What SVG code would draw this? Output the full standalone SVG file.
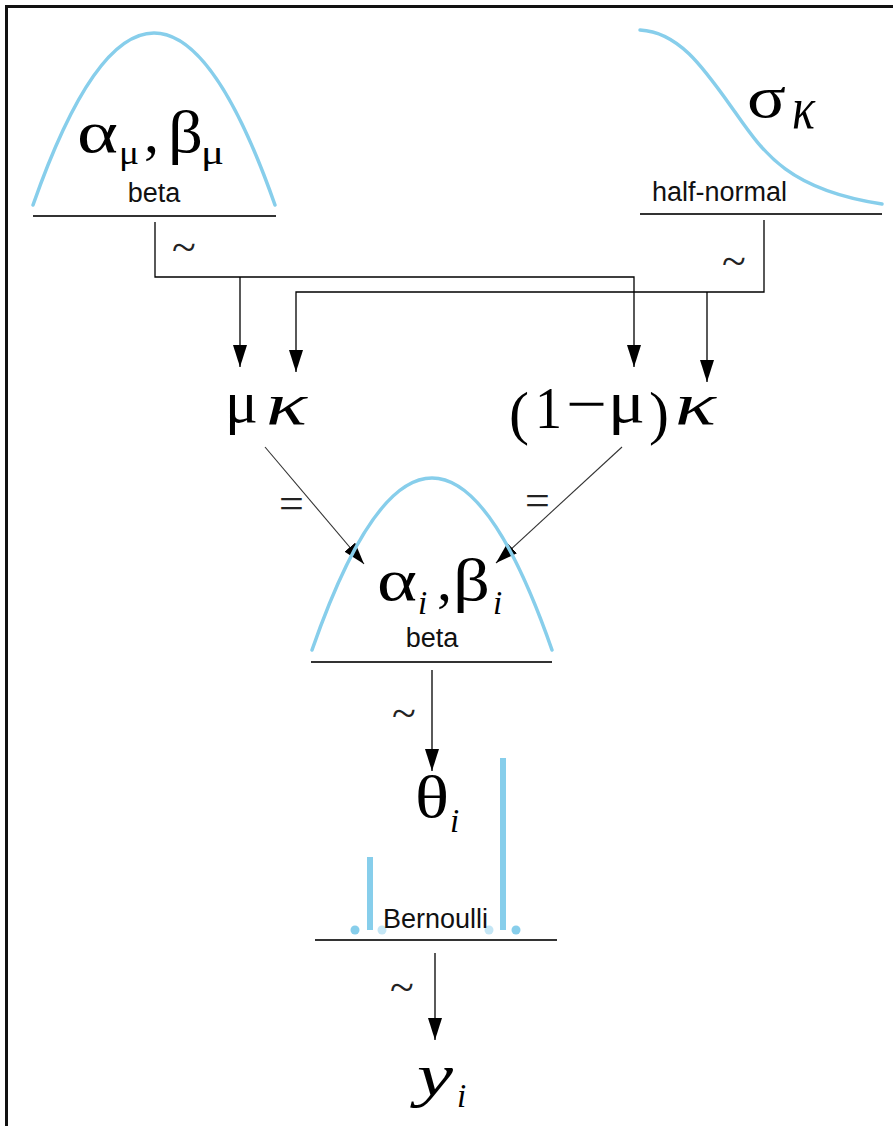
<svg xmlns="http://www.w3.org/2000/svg" width="893" height="1126" viewBox="0 0 893 1126">
<defs>
<style>
.curve{fill:none;stroke:#87ceeb;stroke-width:3.5;stroke-linecap:round}
.base{stroke:#333;stroke-width:2}
.conn{fill:none;stroke:#000;stroke-width:1.3}
.diag{fill:none;stroke:#333;stroke-width:1.1}
.m{font-family:'Liberation Serif','DejaVu Serif',serif;fill:#000;font-size:60px}
.sub{font-size:33px}
.it{font-style:italic}
.lab{font-family:'Liberation Sans',Arial,sans-serif;font-size:27px;fill:#111}
.op{font-family:'Liberation Serif','DejaVu Serif',serif;font-size:44px;fill:#222}
.bar{stroke:#87ceeb;stroke-width:6}
</style>
<marker id="ah" viewBox="0 0 22 14" refX="22" refY="7" markerWidth="22" markerHeight="14" markerUnits="userSpaceOnUse" orient="auto">
<path d="M0,0 L22,7 L0,14 Z" fill="#000"/>
</marker>
</defs>
<rect width="893" height="1126" fill="#fff"/>
<g id="frame">
<line x1="5" y1="6.5" x2="893" y2="6.5" stroke="#111" stroke-width="3"/>
<line x1="6.5" y1="5" x2="6.5" y2="1126" stroke="#111" stroke-width="3"/>
</g>
<g id="beta-top">
<path class="curve" d="M33,205 Q154,-139 275,205"/>
<line class="base" x1="33" y1="216" x2="276" y2="216"/>
<text class="m" x="77" y="152" textLength="41" lengthAdjust="spacingAndGlyphs">α</text>
<text class="m sub" x="119" y="164" textLength="20" lengthAdjust="spacingAndGlyphs">μ</text>
<text class="m" x="144" y="152">,</text>
<text class="m" font-size="56" x="168" y="152" textLength="35" lengthAdjust="spacingAndGlyphs">β</text>
<text class="m sub" x="201" y="164" textLength="23" lengthAdjust="spacingAndGlyphs">μ</text>
<text class="lab" x="154" y="202" text-anchor="middle">beta</text>
</g>
<g id="halfnormal-top">
<path class="curve" d="M640,30 C680,32 705,70 735,112 C765,155 790,190 882,204"/>
<line class="base" x1="640" y1="214" x2="882" y2="214"/>
<text class="m" x="747" y="117" textLength="39" lengthAdjust="spacingAndGlyphs">σ</text>
<text class="m it" font-size="46" x="792" y="128" textLength="23" lengthAdjust="spacingAndGlyphs">κ</text>
<text class="lab" x="652" y="201" font-size="28">half-normal</text>
</g>
<g id="connectors">
<path class="conn" d="M155,222 V277 H634 V367" marker-end="url(#ah)"/>
<path class="conn" d="M240,277 V367" marker-end="url(#ah)"/>
<path class="conn" d="M764,220 V292 H296 V372" marker-end="url(#ah)"/>
<path class="conn" d="M707,292 V382" marker-end="url(#ah)"/>
<path class="diag" d="M265,447 L364,564" marker-end="url(#ah)"/>
<path class="diag" d="M622,447 L496,563" marker-end="url(#ah)"/>
<path class="conn" d="M432,670 V771" marker-end="url(#ah)"/>
<path class="conn" d="M435,953 V1040" marker-end="url(#ah)"/>
<text class="op" x="172" y="262">~</text>
<text class="op" x="722" y="276">~</text>
<text class="op" x="279" y="518">=</text>
<text class="op" x="525" y="515">=</text>
<text class="op" x="392" y="728">~</text>
<text class="op" x="390" y="1002">~</text>
</g>
<g id="mu-kappa">
<text class="m" font-size="62" x="225" y="422" textLength="33" lengthAdjust="spacingAndGlyphs">μ</text>
<text class="m it" font-size="62" x="266" y="424" textLength="41" lengthAdjust="spacingAndGlyphs">κ</text>
</g>
<g id="one-minus-mu-kappa">
<text class="m" font-size="72" x="509" y="433">(</text>
<text class="m" font-size="64" x="535" y="428" textLength="27" lengthAdjust="spacingAndGlyphs">1</text>
<text class="m" font-size="62" x="566" y="424" textLength="41" lengthAdjust="spacingAndGlyphs">−</text>
<text class="m" font-size="62" x="608" y="422" textLength="37" lengthAdjust="spacingAndGlyphs">μ</text>
<text class="m" font-size="72" x="649" y="433">)</text>
<text class="m it" font-size="62" x="675" y="424" textLength="41" lengthAdjust="spacingAndGlyphs">κ</text>
</g>
<g id="beta-mid">
<path class="curve" d="M312,650 Q432,306 552,650"/>
<line class="base" x1="311" y1="662" x2="552" y2="662"/>
<text class="m" x="377" y="600" textLength="40" lengthAdjust="spacingAndGlyphs">α</text>
<text class="m sub it" x="418" y="614">i</text>
<text class="m" x="437" y="600">,</text>
<text class="m" font-size="56" x="453" y="600" textLength="37" lengthAdjust="spacingAndGlyphs">β</text>
<text class="m sub it" x="493" y="614">i</text>
<text class="lab" x="432" y="647" text-anchor="middle">beta</text>
</g>
<g id="theta">
<text class="m" x="415" y="817" textLength="34" lengthAdjust="spacingAndGlyphs">θ</text>
<text class="m sub it" x="450" y="832">i</text>
</g>
<g id="bernoulli">
<line class="bar" x1="370" y1="857" x2="370" y2="930"/>
<line class="bar" x1="503" y1="758" x2="503" y2="930"/>
<circle cx="355" cy="930" r="4.5" fill="#87ceeb"/>
<circle cx="382" cy="930" r="4.5" fill="#c4e6f5"/>
<circle cx="489" cy="930" r="4.5" fill="#c4e6f5"/>
<circle cx="516" cy="930" r="4.5" fill="#87ceeb"/>
<line class="base" x1="315" y1="940" x2="557" y2="940"/>
<text class="lab" x="383" y="928">Bernoulli</text>
</g>
<g id="y">
<text class="m it" font-size="64" x="417" y="1095" textLength="36" lengthAdjust="spacingAndGlyphs">y</text>
<text class="m sub it" x="457" y="1107">i</text>
</g>
</svg>
